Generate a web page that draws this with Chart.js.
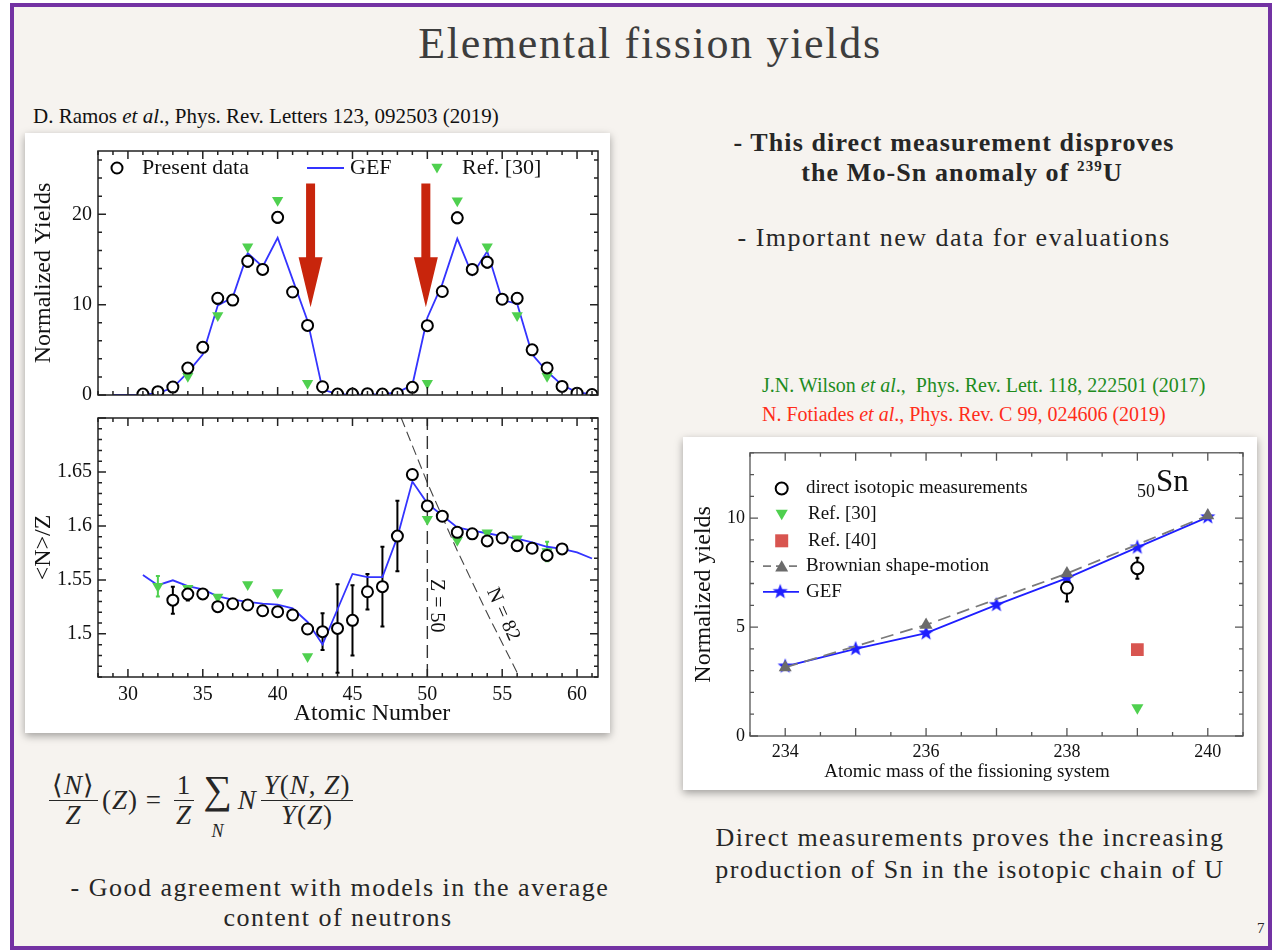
<!DOCTYPE html>
<html lang="en">
<head>
<meta charset="UTF-8" />
<title>Elemental fission yields</title>
<script src="https://cdn.jsdelivr.net/npm/chart.js"></script>
<style>
  body {
    margin: 0;
    width: 1280px;
    height: 952px;
    position: relative;
    overflow: hidden;
    background: #fff;
    font-family: "Liberation Serif", "Times New Roman", serif;
    color: #262626;
  }
  .slide {
    position: absolute;
    left: 10px;
    top: 3px;
    width: 1254px;
    height: 939px;
    border: 4px solid #7332a3;
    background: #f6f3ef;
  }
  .txt { position: absolute; white-space: nowrap; line-height: 1.2; }
  .c { text-align: center; width: 700px; }
  .figure {
    position: absolute;
    background: #fff;
    box-shadow: 0 3px 8px rgba(0, 0, 0, 0.35);
  }
  canvas { position: absolute; }
  .formula {
    position: absolute;
    display: flex;
    align-items: center;
    font-size: 27px;
    letter-spacing: 1px;
    white-space: nowrap;
  }
  .frac {
    display: inline-flex;
    flex-direction: column;
    align-items: center;
    margin: 0 4px;
  }
  .frac .num { border-bottom: 1.3px solid #262626; padding: 0 3px; line-height: 1.08; }
  .frac .den { line-height: 1.08; }
  .sum {
    display: inline-flex;
    flex-direction: column;
    align-items: center;
    margin: 20px 5px 0 5px;
    line-height: 0.85;
  }
  .sum .sig { font-size: 40px; position: relative; top: -9px; }
  .sum .sub { font-size: 18px; font-style: italic; margin-top: 8px; }
</style>
</head>
<body>

<div class="slide"></div>

<div class="txt c" style="left:300px; top:18px; font-size:44px; letter-spacing:1.7px; color:#3d3d3d;">Elemental fission yields</div>
<div class="txt" style="left:33px; top:104px; font-size:21px; color:#111;">D. Ramos <i>et al</i>., Phys. Rev. Letters 123, 092503 (2019)</div>

<div class="txt c" style="left:604px; top:127px; font-size:26px; font-weight:bold; letter-spacing:1.1px;">- This direct measurement disproves</div>
<div class="txt c" style="left:612px; top:157px; font-size:26px; font-weight:bold; letter-spacing:1.1px;">the Mo-Sn anomaly of <sup style="font-size:15px;">239</sup>U</div>
<div class="txt c" style="left:604px; top:222px; font-size:26px; letter-spacing:1.5px;">- Important new data for evaluations</div>

<div class="txt" style="left:762px; top:373px; font-size:20px; color:#1e8c1e;">J.N. Wilson <i>et al</i>.,&nbsp; Phys. Rev. Lett. 118, 222501 (2017)</div>
<div class="txt" style="left:762px; top:402px; font-size:20px; color:#ff2d1a;">N. Fotiades <i>et al</i>., Phys. Rev. C 99, 024606 (2019)</div>

<div class="txt c" style="left:620px; top:822px; font-size:26px; letter-spacing:1.5px;">Direct measurements proves the increasing</div>
<div class="txt c" style="left:620px; top:854px; font-size:26px; letter-spacing:1.5px;">production of Sn in the isotopic chain of U</div>

<div class="txt c" style="left:-10px; top:872px; font-size:26px; letter-spacing:1.5px;">- Good agreement with models in the average</div>
<div class="txt c" style="left:-12px; top:902px; font-size:26px; letter-spacing:1.5px;">content of neutrons</div>
<div class="txt" style="left:1257px; top:919px; font-size:15px;">7</div>

<div class="formula" style="left:45px; top:762px;">
  <span class="frac"><span class="num">⟨<i>N</i>⟩</span><span class="den"><i>Z</i></span></span>
  <span>(<i>Z</i>) =&nbsp;</span>
  <span class="frac"><span class="num">1</span><span class="den"><i>Z</i></span></span>
  <span class="sum"><span class="sig">∑</span><span class="sub">N</span></span>
  <i>N</i>
  <span class="frac"><span class="num"><i>Y</i>(<i>N</i>, <i>Z</i>)</span><span class="den"><i>Y</i>(<i>Z</i>)</span></span>
</div>

<div class="figure" style="left:25px; top:133px; width:585px; height:600px;"></div>
<canvas id="yieldCanvas" width="585" height="280" style="left:25px; top:133px;"></canvas>
<canvas id="ratioCanvas" width="585" height="333" style="left:25px; top:400px;"></canvas>

<div class="figure" style="left:683px; top:437px; width:574px; height:353px;"></div>
<canvas id="snCanvas" width="574" height="353" style="left:683px; top:437px;"></canvas>

<script>
// ---- elemental yields (upper panel) ----
const presentZ = [31, 32, 33, 34, 35, 36, 37, 38, 39, 40, 41, 42, 43, 44, 45, 46,
                  47, 48, 49, 50, 51, 52, 53, 54, 55, 56, 57, 58, 59, 60, 61];
const presentYield = [0.1, 0.37, 0.88, 2.98, 5.27, 10.7, 10.5, 14.8, 13.9, 19.66, 11.4, 7.7, 0.91, 0.1, 0.1, 0.15,
                      0.1, 0.15, 0.85, 7.67, 11.45, 19.6, 13.9, 14.7, 10.6, 10.7, 5.0, 3.0, 0.95, 0.2, 0.05];
const presentYieldErr = [0.05, 0.1, 0.15, 0.2, 0.25, 0.6, 0.5, 0.6, 0.5, 0.6, 0.3, 0.3, 0.1, 0.05, 0.05, 0.05,
                         0.05, 0.05, 0.1, 0.3, 0.3, 0.6, 0.5, 0.6, 0.3, 0.6, 0.3, 0.3, 0.1, 0.05, 0.05];

const gefZ = [29, 30, 31, 32, 33, 34, 35, 36, 37, 38, 39, 40, 41, 42, 43, 44, 45,
              46, 47, 48, 49, 50, 51, 52, 53, 54, 55, 56, 57, 58, 59, 60, 61, 62];
const gefYield = [0, 0, 0.05, 0.2, 0.8, 2.5, 4.5, 9.9, 10.8, 15.7, 14.2, 17.4, 12.8, 8.2, 0.6, 0.1, 0.05,
                  0.05, 0.1, 0.3, 1.1, 8.55, 12.3, 17.3, 13.3, 15.9, 10.5, 10.1, 4.5, 2.6, 1.1, 0.3, 0.1, 0];

const ref30Z = [34, 36, 38, 40, 42, 50, 52, 54, 56, 58];
const ref30Yield = [2.07, 8.8, 16.4, 21.55, 1.3, 1.3, 21.5, 16.4, 8.8, 2.07];

// ---- <N>/Z (lower panel) ----
const ratioZ = [33, 34, 35, 36, 37, 38, 39, 40, 41, 42, 43, 44, 45, 46,
                47, 48, 49, 50, 51, 52, 53, 54, 55, 56, 57, 58, 59];
const presentRatio = [1.5312, 1.5368, 1.537, 1.5252, 1.5279, 1.5267, 1.5214, 1.5205, 1.5175, 1.5045, 1.502, 1.505, 1.5125, 1.539,
                      1.5437, 1.5906, 1.6476, 1.6185, 1.609, 1.5941, 1.5927, 1.5861, 1.5888, 1.5817, 1.5793, 1.5727, 1.5787];
const presentRatioErr = [0.0125, 0.006, 0.003, 0.003, 0.003, 0.003, 0.003, 0.003, 0.003, 0.003, 0.017, 0.041, 0.0325, 0.0165,
                         0.037, 0.0327, 0.004, 0.004, 0.003, 0.003, 0.003, 0.003, 0.003, 0.003, 0.003, 0.005, 0.003];

const gefRatioZ = [31, 32, 33, 34, 35, 36, 37, 38, 39, 40, 41, 42, 43, 44, 45, 46,
                   47, 48, 49, 50, 51, 52, 53, 54, 55, 56, 57, 58, 59, 60, 61];
const gefRatio = [1.5546, 1.5451, 1.5496, 1.5442, 1.5413, 1.5348, 1.5317, 1.5297, 1.5279, 1.527, 1.5237, 1.511, 1.4902, 1.5228, 1.5555, 1.5526,
                  1.5526, 1.5897, 1.6411, 1.6209, 1.6096, 1.5986, 1.5956, 1.5932, 1.5906, 1.5882, 1.5847, 1.5807, 1.5787, 1.5754, 1.5698];

const ref30RatioZ = [32, 34, 36, 38, 40, 42, 50, 52, 54, 56, 58];
const ref30Ratio = [1.5442, 1.5422, 1.5341, 1.5457, 1.5383, 1.4789, 1.6061, 1.5867, 1.5936, 1.5882, 1.5763];
const ref30RatioErr = [0.0095, 0, 0, 0, 0, 0, 0, 0, 0, 0, 0.009];

// shell closures: Z = 50 and N = 82
const shellZ = [50, 50];
const shellZRatio = [1.46, 1.70];
const n82Z = [47.5, 50, 52, 54, 56, 57];
const n82Ratio = [1.726, 1.64, 1.577, 1.519, 1.464, 1.439];

// ---- Sn yields vs fissioning system ----
const gefMass = [234, 235, 236, 237, 238, 239, 240];
const gefSn = [3.2, 4.0, 4.72, 6.02, 7.25, 8.66, 10.05];
const brownianMass = [234, 236, 238, 240];
const brownianSn = [3.15, 5.1, 7.46, 10.12];
const directMass = [238, 239];
const directSn = [6.8, 7.7];
const directSnErr = [0.63, 0.48];
const ref40Mass = [239];
const ref40Sn = [3.97];
const ref30Mass = [239];
const ref30Sn = [1.3];

const zip = (xs, ys) => xs.map((x, i) => ({ x: x, y: ys[i] }));
const SERIF = "'Liberation Serif', 'Times New Roman', serif";
Chart.defaults.font.family = SERIF;
Chart.defaults.color = '#111';

// filled five-point star used as GEF marker on the Sn plot
function makeStar(r, color) {
  const c = document.createElement('canvas');
  c.width = c.height = 2 * r + 2;
  const g = c.getContext('2d');
  g.beginPath();
  for (let k = 0; k < 10; k++) {
    const rad = k % 2 === 0 ? r : r * 0.42;
    const a = -Math.PI / 2 + k * Math.PI / 5;
    g.lineTo(r + 1 + rad * Math.cos(a), r + 1 + rad * Math.sin(a));
  }
  g.closePath();
  g.fillStyle = color;
  g.fill();
  return c;
}
const starImg = makeStar(8, '#1f1fff');

// box with inward tick marks on all four sides
const frameTicks = {
  id: 'frameTicks',
  afterDatasetsDraw(chart, args, o) {
    const { ctx, chartArea: a, scales: { x, y } } = chart;
    ctx.save();
    ctx.strokeStyle = o.color;
    ctx.lineWidth = o.width;
    ctx.strokeRect(a.left, a.top, a.right - a.left, a.bottom - a.top);
    const walk = (scale, major, minor, cb) => {
      const n0 = Math.ceil(scale.min / minor - 1e-6);
      const n1 = Math.floor(scale.max / minor + 1e-6);
      for (let n = n0; n <= n1; n++) {
        const v = n * minor;
        const big = Math.abs(v / major - Math.round(v / major)) < 1e-6;
        cb(scale.getPixelForValue(v), big ? o.major : o.minor);
      }
    };
    ctx.beginPath();
    walk(x, o.xMajor, o.xMinor, (px, len) => {
      ctx.moveTo(px, a.bottom); ctx.lineTo(px, a.bottom - len);
      ctx.moveTo(px, a.top); ctx.lineTo(px, a.top + len);
    });
    walk(y, o.yMajor, o.yMinor, (py, len) => {
      ctx.moveTo(a.left, py); ctx.lineTo(a.left + len, py);
      ctx.moveTo(a.right, py); ctx.lineTo(a.right - len, py);
    });
    ctx.stroke();
    ctx.restore();
  }
};

// vertical error bars, drawn under the markers
const errorBars = {
  id: 'errorBars',
  beforeDatasetsDraw(chart) {
    const { ctx, scales: { x, y } } = chart;
    ctx.save();
    chart.data.datasets.forEach(ds => {
      if (!ds.errors) return;
      ctx.strokeStyle = ds.errorColor || '#000';
      ctx.lineWidth = 2;
      ds.data.forEach((p, i) => {
        const e = ds.errors[i];
        if (!e) return;
        const px = x.getPixelForValue(p.x);
        const y0 = y.getPixelForValue(p.y - e);
        const y1 = y.getPixelForValue(p.y + e);
        ctx.beginPath();
        ctx.moveTo(px, y0); ctx.lineTo(px, y1);
        ctx.moveTo(px - 2, y0); ctx.lineTo(px + 2, y0);
        ctx.moveTo(px - 2, y1); ctx.lineTo(px + 2, y1);
        ctx.stroke();
      });
    });
    ctx.restore();
  }
};

// little marker helpers for the hand-placed legends
function openCircle(ctx, x, y, r) {
  ctx.beginPath();
  ctx.arc(x, y, r, 0, Math.PI * 2);
  ctx.fillStyle = '#fff'; ctx.fill();
  ctx.lineWidth = 2; ctx.strokeStyle = '#000'; ctx.stroke();
}
function triangle(ctx, x, y, r, down, color) {
  let rad = down ? Math.PI : 0;
  ctx.beginPath();
  for (let k = 0; k < 3; k++) {
    ctx.lineTo(x + Math.sin(rad) * r, y - Math.cos(rad) * r);
    rad += 2 * Math.PI / 3;
  }
  ctx.closePath();
  ctx.fillStyle = color; ctx.fill();
}
function label(ctx, text, x, y, size, align) {
  ctx.font = size + 'px ' + SERIF;
  ctx.fillStyle = '#111';
  ctx.textAlign = align || 'left';
  ctx.textBaseline = 'middle';
  ctx.fillText(text, x, y);
}

function axisFont(size) { return { family: SERIF, size: size }; }
const noGrid = { display: false, drawTicks: false };

// ---------- upper panel: yields ----------
const arrowZ = [42.2, 49.9];
new Chart(document.getElementById('yieldCanvas'), {
  type: 'line',
  data: {
    datasets: [
      { label: 'Present data', data: zip(presentZ, presentYield), errors: presentYieldErr,
        showLine: false, pointStyle: 'circle', pointRadius: 5.5, pointBorderWidth: 2,
        pointBorderColor: '#000', pointBackgroundColor: '#fff', order: 0 },
      { label: 'Ref. [30]', data: zip(ref30Z, ref30Yield), showLine: false,
        pointStyle: 'triangle', pointRotation: 180, pointRadius: 6.5, pointBorderWidth: 0,
        pointBackgroundColor: '#4fd04f', order: 1 },
      { label: 'GEF', data: zip(gefZ, gefYield), borderColor: '#3434ff', borderWidth: 1.8,
        pointRadius: 0, tension: 0, order: 2 }
    ]
  },
  options: {
    responsive: false,
    animation: false,
    layout: { padding: { top: 9, right: 12, bottom: 5, left: 0 } },
    scales: {
      x: { type: 'linear', min: 28, max: 61.4, display: false },
      y: {
        type: 'linear', min: 0, max: 27,
        afterFit: s => { s.width = 73; },
        grid: noGrid, border: { display: false },
        ticks: { stepSize: 10, includeBounds: false, padding: 6, autoSkip: false, font: axisFont(20),
                 callback: v => (v % 10 === 0 ? String(v) : '') },
        title: { display: true, text: 'Normalized Yields', font: axisFont(24), padding: { top: 4, bottom: 0 } }
      }
    },
    plugins: {
      legend: { display: false },
      tooltip: { enabled: false },
      frameTicks: { color: '#222', width: 1.5, major: 8, minor: 4, xMajor: 5, xMinor: 1, yMajor: 10, yMinor: 2 }
    }
  },
  plugins: [frameTicks, errorBars, {
    id: 'yieldNotes',
    afterDraw(chart) {
      const { ctx, chartArea: a, scales: { x, y } } = chart;
      ctx.save();
      // red arrows pointing at the Mo / Sn yields
      arrowZ.forEach(z => {
        const cx = x.getPixelForValue(z);
        const top = y.getPixelForValue(23.4);
        const tip = y.getPixelForValue(9.7);
        ctx.beginPath();
        ctx.moveTo(cx - 4.5, top);
        ctx.lineTo(cx + 4.5, top);
        ctx.lineTo(cx + 4.5, tip - 50);
        ctx.lineTo(cx + 12, tip - 50);
        ctx.lineTo(cx, tip);
        ctx.lineTo(cx - 12, tip - 50);
        ctx.lineTo(cx - 4.5, tip - 50);
        ctx.closePath();
        ctx.fillStyle = '#c8250c';
        ctx.fill();
      });
      // legend row
      const ly = a.top + 17;
      openCircle(ctx, a.left + 19, ly, 5.5);
      label(ctx, 'Present data', a.left + 44, ly, 22);
      ctx.strokeStyle = '#3434ff'; ctx.lineWidth = 2;
      ctx.beginPath(); ctx.moveTo(a.left + 209, ly); ctx.lineTo(a.left + 246, ly); ctx.stroke();
      label(ctx, 'GEF', a.left + 252, ly, 22);
      triangle(ctx, a.left + 339, ly - 1, 6.5, true, '#4fd04f');
      label(ctx, 'Ref. [30]', a.left + 364, ly, 22);
      ctx.restore();
    }
  }]
});

// ---------- lower panel: <N>/Z ----------
new Chart(document.getElementById('ratioCanvas'), {
  type: 'line',
  data: {
    datasets: [
      { label: 'Present data', data: zip(ratioZ, presentRatio), errors: presentRatioErr,
        showLine: false, pointStyle: 'circle', pointRadius: 5.5, pointBorderWidth: 2,
        pointBorderColor: '#000', pointBackgroundColor: '#fff', order: 0 },
      { label: 'Ref. [30]', data: zip(ref30RatioZ, ref30Ratio), errors: ref30RatioErr, errorColor: '#4fd04f',
        showLine: false, pointStyle: 'triangle', pointRotation: 180, pointRadius: 6.5, pointBorderWidth: 0,
        pointBackgroundColor: '#4fd04f', order: 1 },
      { label: 'GEF', data: zip(gefRatioZ, gefRatio), borderColor: '#3434ff', borderWidth: 1.8,
        pointRadius: 0, tension: 0, order: 2 },
      { label: 'Z = 50', data: zip(shellZ, shellZRatio), borderColor: '#333', borderWidth: 1.4,
        borderDash: [13, 6], pointRadius: 0, order: 3 },
      { label: 'N = 82', data: zip(n82Z, n82Ratio), borderColor: '#444', borderWidth: 1.1,
        borderDash: [10, 5], pointRadius: 0, order: 4 }
    ]
  },
  options: {
    responsive: false,
    animation: false,
    layout: { padding: { top: 8, right: 12, bottom: 0, left: 0 } },
    scales: {
      x: {
        type: 'linear', min: 28, max: 61.4,
        afterFit: s => { s.height = 56; },
        grid: noGrid, border: { display: false },
        ticks: { stepSize: 5, includeBounds: false, padding: 6, autoSkip: false, maxRotation: 0, font: axisFont(20),
                 callback: v => (v % 5 === 0 ? String(v) : '') }
      },
      y: {
        type: 'linear', min: 1.46, max: 1.70,
        afterFit: s => { s.width = 73; },
        grid: noGrid, border: { display: false },
        ticks: { stepSize: 0.05, includeBounds: false, padding: 6, autoSkip: false, font: axisFont(20),
                 callback: v => {
                   const k = Math.round(v * 100);
                   return (k % 5 === 0 && k >= 150 && k <= 165) ? String(k / 100) : '';
                 } },
        title: { display: true, text: '<N>/Z', font: axisFont(24), padding: { top: 4, bottom: 0 } }
      }
    },
    plugins: {
      legend: { display: false },
      tooltip: { enabled: false },
      frameTicks: { color: '#222', width: 1.5, major: 8, minor: 4, xMajor: 5, xMinor: 1, yMajor: 0.05, yMinor: 0.01 }
    }
  },
  plugins: [frameTicks, errorBars, {
    id: 'shellNotes',
    afterDraw(chart) {
      const { ctx, chartArea: a, scales: { x, y } } = chart;
      ctx.save();
      label(ctx, 'Atomic Number', a.left + 274, a.bottom + 37, 24, 'center');
      ctx.font = '20px ' + SERIF;
      ctx.textAlign = 'center';
      ctx.translate(x.getPixelForValue(50.62), y.getPixelForValue(1.526));
      ctx.rotate(Math.PI / 2);
      ctx.fillText('Z = 50', 0, 0);
      ctx.restore();
      ctx.save();
      ctx.font = '20px ' + SERIF;
      ctx.fillStyle = '#111';
      ctx.textAlign = 'center';
      ctx.textBaseline = 'middle';
      ctx.translate(x.getPixelForValue(55.05), y.getPixelForValue(1.518));
      ctx.rotate(66 * Math.PI / 180);
      ctx.fillText('N = 82', 0, 0);
      ctx.restore();
    }
  }]
});

// ---------- Sn yields along the U chain ----------
new Chart(document.getElementById('snCanvas'), {
  type: 'line',
  data: {
    datasets: [
      { label: 'direct isotopic measurements', data: zip(directMass, directSn), errors: directSnErr,
        showLine: false, pointStyle: 'circle', pointRadius: 6, pointBorderWidth: 2,
        pointBorderColor: '#000', pointBackgroundColor: '#fff', order: 0 },
      { label: 'Ref. [30]', data: zip(ref30Mass, ref30Sn), showLine: false,
        pointStyle: 'triangle', pointRotation: 180, pointRadius: 7, pointBorderWidth: 0,
        pointBackgroundColor: '#4fd04f', order: 1 },
      { label: 'Ref. [40]', data: zip(ref40Mass, ref40Sn), showLine: false,
        pointStyle: 'rect', pointRadius: 9, pointBorderWidth: 0,
        pointBackgroundColor: '#d85550', order: 2 },
      { label: 'Brownian shape-motion', data: zip(brownianMass, brownianSn), borderColor: '#7a7a7a',
        borderWidth: 1.8, borderDash: [13, 7], pointStyle: 'triangle', pointRadius: 7.5,
        pointBorderWidth: 0, pointBackgroundColor: '#6b6b6b', tension: 0, order: 3 },
      { label: 'GEF', data: zip(gefMass, gefSn), borderColor: '#1f1fff', borderWidth: 1.8,
        pointStyle: starImg, pointRadius: 8, tension: 0, order: 4 }
    ]
  },
  options: {
    responsive: false,
    animation: false,
    layout: { padding: { top: 9, right: 14, bottom: 0, left: 0 } },
    scales: {
      x: {
        type: 'linear', min: 233.5, max: 240.5,
        afterFit: s => { s.height = 54; },
        grid: noGrid, border: { display: false },
        ticks: { stepSize: 2, includeBounds: false, padding: 5, autoSkip: false, maxRotation: 0, font: axisFont(18),
                 callback: v => String(v) }
      },
      y: {
        type: 'linear', min: 0, max: 13,
        afterFit: s => { s.width = 67; },
        grid: noGrid, border: { display: false },
        ticks: { stepSize: 5, includeBounds: false, padding: 5, autoSkip: false, font: axisFont(18),
                 callback: v => (v % 5 === 0 ? String(v) : '') },
        title: { display: true, text: 'Normalized yields', font: axisFont(24), padding: { top: 6, bottom: 0 } }
      }
    },
    plugins: {
      legend: { display: false },
      tooltip: { enabled: false },
      frameTicks: { color: '#555', width: 1.3, major: 8, minor: 4, xMajor: 1, xMinor: 0.5, yMajor: 5, yMinor: 1 }
    }
  },
  plugins: [frameTicks, errorBars, {
    id: 'snNotes',
    afterDraw(chart) {
      const { ctx, chartArea: a } = chart;
      ctx.save();
      label(ctx, 'Atomic mass of the fissioning system', a.left + 217, a.bottom + 36, 19, 'center');
      const mx = a.left + 31.7;
      openCircle(ctx, mx, a.top + 35.7, 6);
      label(ctx, 'direct isotopic measurements', a.left + 56, a.top + 35.7, 19);
      triangle(ctx, mx, a.top + 60.5, 7, true, '#4fd04f');
      label(ctx, 'Ref. [30]', a.left + 58, a.top + 61.3, 19);
      ctx.fillStyle = '#d85550';
      ctx.fillRect(mx - 6.5, a.top + 81.5, 13, 13);
      label(ctx, 'Ref. [40]', a.left + 58, a.top + 88, 19);
      ctx.strokeStyle = '#7a7a7a'; ctx.lineWidth = 1.8; ctx.setLineDash([8, 5]);
      ctx.beginPath(); ctx.moveTo(a.left + 13, a.top + 113.3); ctx.lineTo(a.left + 49, a.top + 113.3); ctx.stroke();
      ctx.setLineDash([]);
      triangle(ctx, mx, a.top + 115, 7.5, false, '#6b6b6b');
      label(ctx, 'Brownian shape-motion', a.left + 56, a.top + 113.3, 19);
      ctx.strokeStyle = '#1f1fff';
      ctx.beginPath(); ctx.moveTo(a.left + 13, a.top + 139); ctx.lineTo(a.left + 49, a.top + 139); ctx.stroke();
      ctx.drawImage(starImg, mx - starImg.width / 2 - 1.5, a.top + 139 - starImg.height / 2);
      label(ctx, 'GEF', a.left + 56, a.top + 139, 19);
      // element tag
      ctx.fillStyle = '#111';
      ctx.textAlign = 'left';
      ctx.textBaseline = 'alphabetic';
      ctx.font = '18px ' + SERIF;
      ctx.fillText('50', a.left + 387, a.top + 44);
      ctx.font = '31px ' + SERIF;
      ctx.fillText('Sn', a.left + 406, a.top + 38);
      ctx.restore();
    }
  }]
});
</script>
</body>
</html>
